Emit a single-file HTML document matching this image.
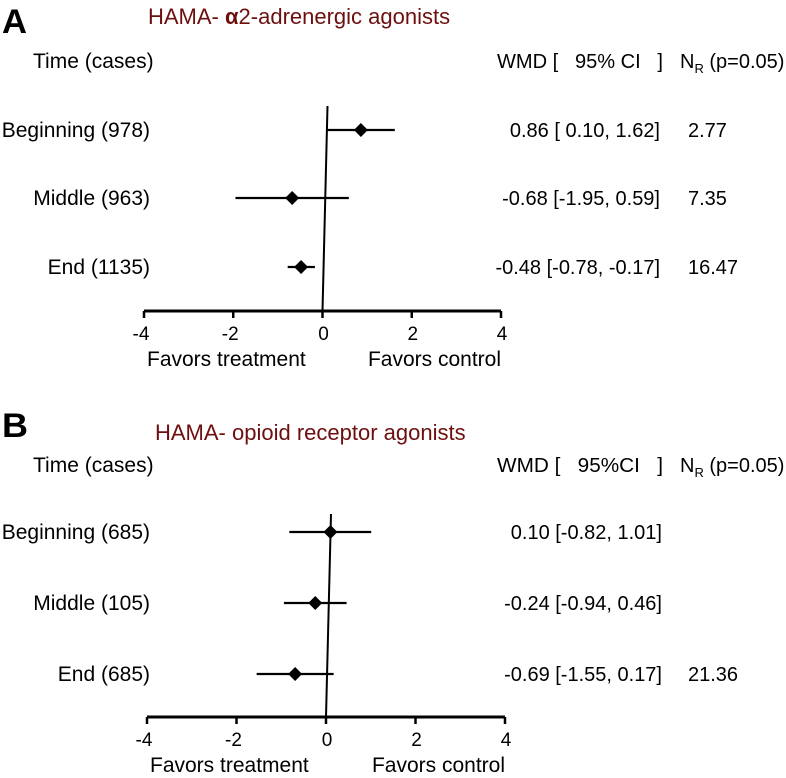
<!DOCTYPE html>
<html><head><meta charset="utf-8"><style>
html,body{margin:0;padding:0;background:#fff;}
svg{display:block;font-family:"Liberation Sans",Arial,sans-serif;}
</style></head><body>
<svg id="chart" width="786" height="778" viewBox="0 0 786 778">
<g id="static" fill="#000" font-size="20">
  <text x="2" y="33" font-size="34" font-weight="bold" textLength="25" lengthAdjust="spacingAndGlyphs">A</text>
  <text x="148" y="24" font-size="22" fill="#6e0f0f">HAMA- <tspan font-weight="bold">α</tspan>2-adrenergic agonists</text>
  <text x="33" y="68" font-size="21">Time (cases)</text>
  <text x="497" y="68" font-size="20" xml:space="preserve" textLength="166" lengthAdjust="spacingAndGlyphs">WMD [   95% CI   ]</text>
  <text x="680" y="68" font-size="20">N<tspan font-size="13" dy="5">R</tspan><tspan dy="-5"> (p=0.05)</tspan></text>
  <text x="2" y="437" font-size="34" font-weight="bold" textLength="26" lengthAdjust="spacingAndGlyphs">B</text>
  <text x="155" y="440" font-size="22" fill="#6e0f0f">HAMA- opioid receptor agonists</text>
  <text x="33" y="472" font-size="21">Time (cases)</text>
  <text x="497" y="472" font-size="20" xml:space="preserve" textLength="166" lengthAdjust="spacingAndGlyphs">WMD [   95%CI   ]</text>
  <text x="680" y="472" font-size="20">N<tspan font-size="13" dy="5">R</tspan><tspan dy="-5"> (p=0.05)</tspan></text>
</g>
</svg>
<script>
const ticks = [-4,-2,0,2,4];
const labelsA = ["Beginning (978)","Middle (963)","End (1135)"];
const meanA = [0.86,-0.68,-0.48];
const lowA = [0.10,-1.95,-0.78];
const highA = [1.62,0.59,-0.17];
const nrA = ["2.77","7.35","16.47"];
const labelsB = ["Beginning (685)","Middle (105)","End (685)"];
const meanB = [0.10,-0.24,-0.69];
const lowB = [-0.82,-0.94,-1.55];
const highB = [1.01,0.46,0.17];
const nrB = ["","","21.36"];

const NS="http://www.w3.org/2000/svg";
const svg=document.getElementById('chart');
function mk(tag,attrs,text){const e=document.createElementNS(NS,tag);for(const k in attrs)e.setAttribute(k,attrs[k]);if(text!==undefined)e.textContent=text;svg.appendChild(e);return e;}
function fmt(v){return v.toFixed(2);}
function panel(p,x0,x1,axisY,rows,zTop,valEnd,labels,mean,low,high,nr){
  const sx=v=>x0+(v+4)/8*(x1-x0);
  const ax=mk('line',{x1:x0,x2:x1,y1:axisY,y2:axisY,stroke:'#000','stroke-width':3});
  
  
  ticks.forEach(t=>{
    const tl=mk('line',{x1:sx(t),x2:sx(t),y1:axisY,y2:axisY+7,stroke:'#000','stroke-width':2.5});
    
    
    const tx=mk('text',{x:sx(t)-(t<0?3:-1),y:axisY+29,'text-anchor':'middle','font-size':19},String(t));
    
    
  });
  const zl=mk('line',{x1:sx(0)+5,y1:zTop,x2:sx(0),y2:axisY,stroke:'#000','stroke-width':2});
  
  
  const f1=mk('text',{x:sx(-4)+3,y:axisY+55,'font-size':21},'Favors treatment');
  
  
  const f2=mk('text',{x:sx(4),y:axisY+55,'font-size':21,'text-anchor':'end'},'Favors control');
  
  
  labels.forEach((lab,i)=>{
    const y=rows[i];
    const l=mk('text',{x:150,y:y+7,'text-anchor':'end','font-size':21},lab);
    
    
    const ci=mk('line',{x1:sx(low[i]),x2:sx(high[i]),y1:y,y2:y,stroke:'#000','stroke-width':2.2});
    
    
    const cx=sx(mean[i]);
    const d=mk('polygon',{points:`${cx},${y-7} ${cx+7},${y} ${cx},${y+7} ${cx-7},${y}`,fill:'#000'});
    
    
    const lo=(low[i]<0?'':' ')+fmt(low[i]);
    const v=mk('text',{x:valEnd,y:y+7,'text-anchor':'end','font-size':20,'xml:space':'preserve'},`${fmt(mean[i])} [${lo},  ${fmt(high[i])}]`);
    
    
    if(nr[i]){
      const n=mk('text',{x:688,y:y+7,'font-size':20},nr[i]);
      
      
    }
  });
}
panel('panel-a',144,501,311,[130,198,267],106,660,labelsA,meanA,lowA,highA,nrA);
panel('panel-b',147,505,717,[532,603,674],514,662,labelsB,meanB,lowB,highB,nrB);
</script>
</body></html>
